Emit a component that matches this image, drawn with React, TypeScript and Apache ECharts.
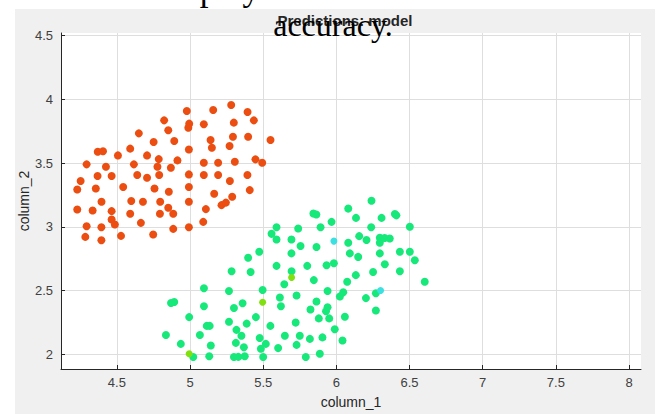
import React, { useEffect, useRef } from "react";
import * as echarts from "echarts";

const xTicks = [4.5, 5, 5.5, 6, 6.5, 7, 7.5, 8];
const yTicks = [2, 2.5, 3, 3.5, 4, 4.5];

const orangePoints = [
  [4.823, 3.835], [4.851, 3.757], [4.65, 3.733], [4.751, 3.665], [4.369, 3.589], [4.405, 3.592],
  [4.507, 3.56], [4.591, 3.613], [4.706, 3.56], [4.786, 3.531], [4.293, 3.49], [4.425, 3.471],
  [4.616, 3.49], [4.777, 3.471], [4.869, 3.463], [4.368, 3.398], [4.464, 3.398], [4.639, 3.406],
  [4.706, 3.385], [4.789, 3.406], [4.252, 3.359], [4.229, 3.293], [4.356, 3.301], [4.543, 3.312],
  [4.757, 3.301], [4.855, 3.275], [4.395, 3.196], [4.598, 3.202], [4.678, 3.196], [4.796, 3.196],
  [4.851, 3.149], [4.229, 3.136], [4.334, 3.128], [4.464, 3.123], [4.591, 3.102], [4.794, 3.102],
  [4.885, 3.102], [4.464, 3.058], [4.664, 3.031], [4.486, 3.018], [4.293, 3.005], [4.394, 2.997],
  [4.885, 2.984], [4.284, 2.921], [4.528, 2.929], [4.748, 2.94], [4.394, 2.895],
  [4.978, 3.908], [5.158, 3.916], [5.281, 3.955], [5.393, 3.901], [5.436, 3.835], [4.994, 3.809],
  [4.988, 3.777], [5.094, 3.804], [5.299, 3.817], [4.892, 3.673], [5.14, 3.681], [5.293, 3.707],
  [5.397, 3.707], [5.55, 3.681], [5.149, 3.62], [5.27, 3.634], [4.992, 3.607], [5.447, 3.529],
  [5.493, 3.503], [5.306, 3.51], [5.192, 3.503], [5.094, 3.503], [4.914, 3.521], [4.992, 3.411],
  [5.094, 3.406], [5.192, 3.406], [5.392, 3.406], [5.272, 3.359], [5.408, 3.288], [4.992, 3.312],
  [5.165, 3.259], [5.288, 3.236], [4.992, 3.196], [5.215, 3.17], [5.245, 3.19], [5.108, 3.139],
  [5.09, 3.039], [4.992, 2.997],
];

const greenPoints = [
  [5.284, 2.651], [5.414, 2.646], [5.694, 2.651], [5.644, 2.549], [5.095, 2.518], [5.266, 2.497],
  [5.496, 2.505], [5.614, 2.446], [5.728, 2.462], [4.87, 2.403], [4.892, 2.41], [5.095, 2.377],
  [5.3, 2.364], [5.359, 2.4], [5.621, 2.377], [4.994, 2.292], [5.45, 2.292], [5.266, 2.256],
  [5.387, 2.241], [5.114, 2.223], [5.134, 2.223], [5.722, 2.249], [5.317, 2.192], [4.835, 2.151],
  [5.067, 2.151], [5.351, 2.146], [5.476, 2.128], [5.549, 2.223], [5.648, 2.146], [4.937, 2.082],
  [5.142, 2.069], [5.313, 2.09], [5.518, 2.082], [5.368, 2.056], [5.484, 2.044], [5.602, 2.049],
  [5.728, 2.074], [5.022, 1.979], [5.131, 1.985], [5.3, 1.979], [5.33, 1.98], [5.374, 1.985],
  [5.5, 1.979],
  [5.846, 2.582], [6.133, 2.621], [6.251, 2.646], [6.434, 2.651], [6.604, 2.569], [6.074, 2.569],
  [5.94, 2.497], [6.047, 2.487], [6.024, 2.454], [6.202, 2.441], [6.27, 2.479], [5.864, 2.415],
  [5.823, 2.351], [5.94, 2.369], [5.929, 2.338], [6.27, 2.344], [5.88, 2.282], [5.951, 2.282],
  [6.058, 2.295], [5.989, 2.197], [5.75, 2.146], [5.819, 2.121], [5.905, 2.133], [6.042, 2.108],
  [5.791, 1.979], [5.887, 2.005],
  [6.24, 3.205], [6.081, 3.143], [5.843, 3.105], [5.863, 3.097], [6.134, 3.07], [6.309, 3.07],
  [6.4, 3.1], [6.41, 3.09], [5.967, 3.039], [6.502, 3.0], [5.591, 2.997], [5.739, 2.987],
  [5.892, 2.997], [6.238, 2.997], [5.557, 2.945], [6.156, 2.927], [5.591, 2.901], [5.693, 2.901],
  [6.206, 2.896], [6.297, 2.914], [6.33, 2.912], [6.365, 2.909], [6.297, 2.875], [6.081, 2.875],
  [5.755, 2.849], [5.864, 2.842], [5.693, 2.792], [5.473, 2.805], [6.092, 2.792], [6.149, 2.764],
  [6.297, 2.792], [6.434, 2.805], [6.502, 2.805], [6.536, 2.738], [5.397, 2.758], [5.591, 2.694],
  [5.801, 2.694], [5.933, 2.699], [5.983, 2.714], [6.331, 2.706],
];

const limePoints = [[5.694, 2.603], [5.496, 2.408], [4.994, 2.005]];
const cyanPoints = [[6.302, 2.5], [5.983, 2.888]];

const SANS = "'Liberation Sans', Arial, Helvetica, sans-serif";
const SERIF = "'Liberation Serif', 'Times New Roman', serif";

export default function App() {
  const ref = useRef<HTMLDivElement>(null);

  useEffect(() => {
    const chart = echarts.init(ref.current!, null, { renderer: "svg" });
    const axisColor = "#262626";
    chart.setOption({
      animation: false,
      backgroundColor: "transparent",
      grid: {
        left: 61,
        right: 26,
        top: 33,
        bottom: 42,
        show: true,
        backgroundColor: "#ffffff",
        borderWidth: 0,
      },
      xAxis: {
        type: "value",
        min: 4.118,
        max: 8.082,
        axisLine: { show: true, onZero: false, lineStyle: { color: axisColor, width: 1 } },
        axisTick: { show: true, inside: true, length: 4, customValues: xTicks, lineStyle: { color: axisColor } },
        axisLabel: { customValues: xTicks, color: "#404040", fontSize: 13, fontFamily: SANS, margin: 7 },
        splitLine: { show: true, lineStyle: { color: "#dedede", width: 1 } },
        name: "column_1",
        nameLocation: "middle",
        nameGap: 26,
        nameMoveOverlap: false,
        nameTextStyle: { color: "#262626", fontSize: 14, fontFamily: SANS },
      },
      yAxis: {
        type: "value",
        min: 1.885,
        max: 4.52,
        axisLine: { show: true, onZero: false, lineStyle: { color: axisColor, width: 1 } },
        axisTick: { show: true, inside: true, length: 4, customValues: yTicks, lineStyle: { color: axisColor } },
        axisLabel: { customValues: yTicks, color: "#404040", fontSize: 13, fontFamily: SANS, margin: 8 },
        splitLine: { show: true, lineStyle: { color: "#dedede", width: 1 } },
        name: "column_2",
        nameLocation: "middle",
        nameGap: 30,
        nameMoveOverlap: false,
        nameTextStyle: { color: "#262626", fontSize: 14, fontFamily: SANS },
      },
      series: [
        {
          type: "scatter",
          data: orangePoints,
          symbolSize: 8,
          itemStyle: { color: "#ec4d10", opacity: 1 },
        },
        {
          type: "scatter",
          data: greenPoints,
          symbolSize: 8,
          itemStyle: { color: "#17e87a", opacity: 1 },
        },
        {
          type: "scatter",
          data: limePoints,
          symbolSize: 7,
          itemStyle: { color: "#80e010", opacity: 1 },
        },
        {
          type: "scatter",
          data: cyanPoints,
          symbolSize: 7,
          itemStyle: { color: "#3ce0e0", opacity: 1 },
        },
      ],
      graphic: [
        {
          type: "text",
          x: 345,
          y: 20,
          z: 100,
          style: {
            text: "Predictions: model",
            font: `bold 15px ${SANS}`,
            fill: "#262626",
            align: "center",
            verticalAlign: "middle",
            textAlign: "center",
            textVerticalAlign: "middle",
          },
        },
        {
          type: "text",
          x: 333,
          y: 25,
          z: 101,
          style: {
            text: "accuracy.",
            font: `32px ${SERIF}`,
            fill: "#000000",
            align: "center",
            verticalAlign: "middle",
            textAlign: "center",
            textVerticalAlign: "middle",
          },
        },
        {
          type: "text",
          x: 159,
          y: -12,
          z: 101,
          style: {
            text: "display",
            font: `35px ${SERIF}`,
            fill: "#000000",
            align: "left",
            verticalAlign: "middle",
            textAlign: "left",
            textVerticalAlign: "middle",
          },
        },
      ],
    });
    return () => chart.dispose();
  }, []);

  return (
    <div style={{ position: "fixed", left: 0, top: 0, width: 667, height: 414, background: "#ffffff" }}>
      <div
        style={{ position: "absolute", left: 15, top: 9, width: 640, height: 405, background: "#f0f0f0" }}
      />
      <div ref={ref} style={{ position: "absolute", left: 0, top: 0, width: 667, height: 414 }} />
    </div>
  );
}
